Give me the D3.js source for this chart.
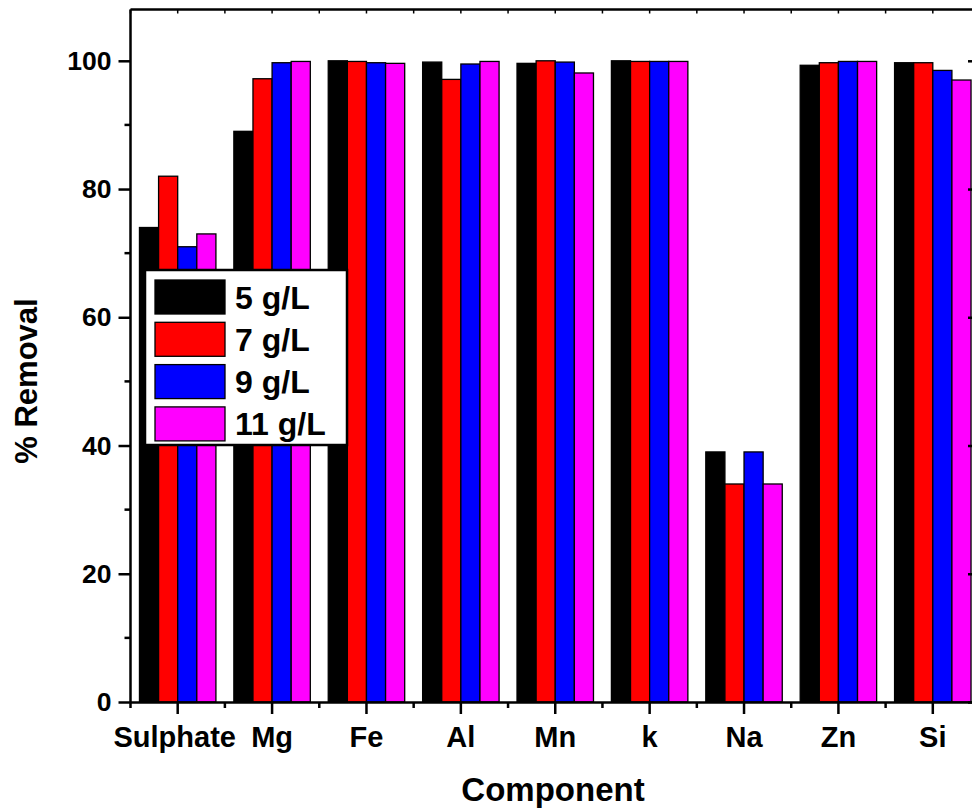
<!DOCTYPE html>
<html>
<head>
<meta charset="utf-8">
<script src="https://cdn.jsdelivr.net/npm/d3@7"></script>
<style>
  html, body { margin: 0; padding: 0; background: #fff; }
  svg { display: block; }
  text { font-family: Arial, "Liberation Sans", sans-serif; font-weight: bold; fill: #000; }
</style>
</head>
<body>
<svg id="chart" width="972" height="810"></svg>
<script>
// Components on the x axis
const categories = ["Sulphate", "Mg", "Fe", "Al", "Mn", "k", "Na", "Zn", "Si"];

// % removal per dose
const series = ["5 g/L", "7 g/L", "9 g/L", "11 g/L"];
const dose5  = [74, 89, 100, 99.8, 99.6, 100, 39, 99.3, 99.7];
const dose7  = [82, 97.2, 99.9, 97.1, 100, 99.9, 34, 99.7, 99.7];
const dose9  = [71, 99.7, 99.7, 99.5, 99.8, 99.9, 39, 99.9, 98.5];
const dose11 = [73, 99.9, 99.6, 99.9, 98.1, 99.9, 34, 99.9, 97.0];
const seriesValues = [dose5, dose7, dose9, dose11];
const colors = ["#000000", "#ff0000", "#0000ff", "#ff00ff"];

const yTicks = [0, 20, 40, 60, 80, 100];
const yMinorTicks = [10, 30, 50, 70, 90];

const svg = d3.select("#chart");

const plotLeft = 130.5, plotRight = 980, plotTop = 9.5, plotBottom = 702;

const x = d3.scaleBand().domain(categories).range([plotLeft, plotRight]).paddingInner(0).paddingOuter(0);
const bw = x.bandwidth();
const x1 = d3.scaleBand().domain(series).range([bw * 0.095, bw * 0.905]).padding(0);
const y = d3.scaleLinear().domain([0, 108]).range([plotBottom, plotTop]);

// Bars
const rows = categories.map((c, i) => ({ c, vals: series.map((s, j) => ({ s, j, v: seriesValues[j][i] })) }));
const groups = svg.append("g").selectAll("g").data(rows).join("g")
  .attr("transform", d => `translate(${x(d.c)},0)`);
groups.selectAll("rect").data(d => d.vals).join("rect")
  .attr("x", d => x1(d.s))
  .attr("width", x1.bandwidth())
  .attr("y", d => y(d.v))
  .attr("height", d => y(0) - y(d.v))
  .attr("fill", d => colors[d.j])
  .attr("stroke", "#000")
  .attr("stroke-width", 1.3);

// Axes
const axisG = svg.append("g");
const centers = categories.map(c => x(c) + bw / 2);
const bounds = categories.map(c => x(c)).concat([plotRight]);

// bottom axis
const bottomAxis = d3.axisBottom(x).tickSize(12).tickSizeOuter(0);
const gb = axisG.append("g").attr("transform", `translate(0,${plotBottom})`).call(bottomAxis);
gb.select(".domain").attr("stroke-width", 2.5);
gb.selectAll(".tick line").attr("stroke-width", 2.5);
gb.selectAll(".tick text").style("font-size", "29px").attr("dy", null).attr("y", 45)
  .attr("dx", (d, i) => i === 0 ? -3 : 0);
gb.selectAll(".minor").data(bounds).join("line").attr("class", "minor")
  .attr("x1", d => d).attr("x2", d => d).attr("y1", 0).attr("y2", 6)
  .attr("stroke", "#000").attr("stroke-width", 2.5);

// top frame with small inward ticks
const gt = axisG.append("g").attr("transform", `translate(0,${plotTop})`);
gt.append("line").attr("x1", plotLeft).attr("x2", plotRight).attr("stroke", "#000").attr("stroke-width", 2.5);
gt.selectAll(".t").data(centers.concat(bounds)).join("line").attr("class", "t")
  .attr("x1", d => d).attr("x2", d => d).attr("y1", 0).attr("y2", 4)
  .attr("stroke", "#000").attr("stroke-width", 1.5);

// left axis
const leftAxis = d3.axisLeft(y).tickValues(yTicks).tickSize(12).tickSizeOuter(0).tickPadding(7);
const gl = axisG.append("g").attr("transform", `translate(${plotLeft},0)`).call(leftAxis);
gl.select(".domain").attr("d", `M0,${plotBottom}V${plotTop}`).attr("stroke-width", 2.5);
gl.selectAll(".tick line").attr("stroke-width", 2.5);
gl.selectAll(".tick text").style("font-size", "26.5px");
gl.selectAll(".minor").data(yMinorTicks).join("line").attr("class", "minor")
  .attr("x1", 0).attr("x2", -6).attr("y1", d => y(d)).attr("y2", d => y(d))
  .attr("stroke", "#000").attr("stroke-width", 2.5);

// right frame with inward ticks
const rightAxis = d3.axisLeft(y).tickValues(yTicks).tickSize(12).tickSizeOuter(0).tickFormat("");
const gr = axisG.append("g").attr("transform", `translate(${plotRight},0)`).call(rightAxis);
gr.select(".domain").attr("d", `M0,${plotBottom}V${plotTop}`).attr("stroke-width", 2.5);
gr.selectAll(".tick line").attr("stroke-width", 2.5);

// axis titles
svg.append("text").attr("x", 553).attr("y", 801)
  .attr("text-anchor", "middle").style("font-size", "33px").text("Component");
svg.append("text").attr("transform", `translate(37,381) rotate(-90)`)
  .attr("text-anchor", "middle").style("font-size", "31px").text("% Removal");

// legend
const lg = svg.append("g");
lg.append("rect").attr("x", 145).attr("y", 270).attr("width", 202).attr("height", 175)
  .attr("fill", "#fff").attr("stroke", "#000").attr("stroke-width", 2.5);
const items = lg.selectAll(".item").data(series).join("g").attr("class", "item")
  .attr("transform", (d, i) => `translate(155,${280 + i * 42.3})`);
items.append("rect").attr("width", 70).attr("height", 34)
  .attr("fill", (d, i) => colors[i]).attr("stroke", "#000").attr("stroke-width", 1.3);
items.append("text").attr("x", 80).attr("y", 28.5).style("font-size", "32px").text(d => d);
</script>
</body>
</html>
